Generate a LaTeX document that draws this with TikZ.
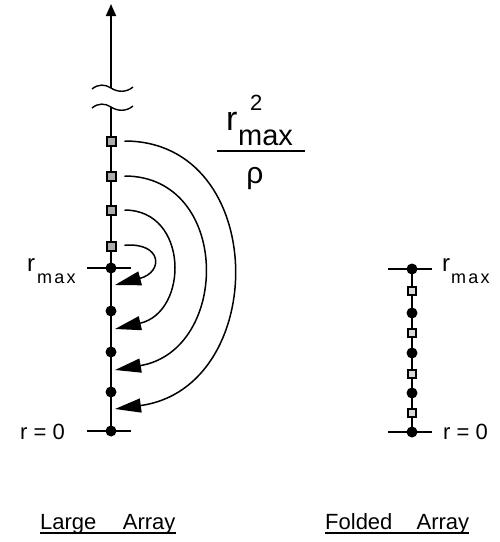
\documentclass[tikz,border=0pt]{standalone}
\usepackage{fontspec}
\setmainfont{Liberation Sans}
\usetikzlibrary{arrows.meta,backgrounds}

\newcommand{\fsz}[1]{\fontsize{#1}{#1}\selectfont}
\newcommand{\spaced}[1]{{\addfontfeature{LetterSpace=12}#1}}

\begin{document}
\begin{tikzpicture}[x=1pt,y=-1pt,
  sitedot/.style={circle,fill,inner sep=0pt,minimum size=11pt},
  sitebox/.style={rectangle,draw,line width=2pt,fill=gray!65,inner sep=0pt,minimum size=9pt},
  foldarrow/.style={line width=1.5pt,shorten <=8pt,-{Triangle[length=26pt,width=14pt]}},
  axis/.style={line width=1.8pt},
  lbl/.style={inner sep=0pt,anchor=base west}]
  \useasboundingbox (0,0) rectangle (500,542);

  % large array
  \coordinate (ltop) at (111,4);
  \coordinate (brkA) at (111,88);
  \coordinate (brkB) at (111,107);
  \foreach \n/\y in {1/141,2/176,3/210,4/246}
    \node[sitebox] (sq\n) at (111,\y) {};
  \node[sitedot] (lmax) at (111,268) {};
  \foreach \n/\y in {1/311,2/352,3/392}
    \node[sitedot] (ld\n) at (111,\y) {};
  \node[sitedot] (lzero) at (111,431) {};
  \begin{scope}[on background layer]
    \draw[axis,-{Triangle[length=12pt,width=10pt]}] (brkA) -- (ltop);
    \draw[axis] (brkB) -- (lzero.center);
  \end{scope}
  \foreach \yy in {0,19}
    \draw[line width=1.4pt,yshift=-\yy pt] (92,89) .. controls (98,84) and (105,84) .. (111,88)
      .. controls (117,92) and (126,93) .. (133,87);
  \draw[axis] ([xshift=-24pt]lmax.center) -- ([xshift=20pt]lmax.center);
  \draw[axis] ([xshift=-24pt]lzero.center) -- ([xshift=20pt]lzero.center);

  % folding arrows
  \coordinate (tip1) at (115,285);
  \coordinate (tip2) at (115,329);
  \coordinate (tip3) at (115,370);
  \coordinate (tip4) at (115,409);
  \draw[foldarrow] (sq4.east) .. controls (162,242) and (164,272) .. (tip1);
  \draw[foldarrow] (sq3.east) .. controls (189,210) and (189,312) .. (tip2);
  \draw[foldarrow] (sq2.east) .. controls (231,176) and (231,350) .. (tip3);
  \draw[foldarrow] (sq1.east) .. controls (270,141) and (270,388) .. (tip4);

  % labels of the large array
  \node[lbl] (lr) at (27,271) {\fsz{24}r};
  \node[lbl] (lrsub) at (37,283) {\fsz{18}\spaced{max}};
  \node[lbl] (lr0) at (20,439) {\fsz{22}r = 0};

  % r_max^2 / rho
  \node[lbl] (fr) at (226,130) {\fsz{34}r};
  \node[lbl] (fsup) at (250,110) {\fsz{22}2};
  \node[lbl] (fsub) at (238,145) {\fsz{29}max};
  \draw[line width=1.8pt] (217,151) -- (305,151);
  \node[inner sep=0pt] (frho) at (255,179) {\fsz{30}ρ};

  % folded array
  \node[sitedot] (fmax) at (412,269) {};
  \foreach \n/\y in {1/291,2/333,3/374,4/413}
    \node[sitebox,fill=gray!30,minimum size=8.5pt,line width=1.6pt] (fq\n) at (412,\y) {};
  \foreach \n/\y in {1/313,2/353,3/393}
    \node[sitedot] (fd\n) at (412,\y) {};
  \node[sitedot] (fzero) at (412,432) {};
  \begin{scope}[on background layer]
    \draw[axis] (fmax.center) -- (fzero.center);
  \end{scope}
  \draw[axis] ([xshift=-24pt]fmax.center) -- ([xshift=20pt]fmax.center);
  \draw[axis] ([xshift=-24pt]fzero.center) -- ([xshift=20pt]fzero.center);
  \node[lbl] (rr) at (442,271) {\fsz{24}r};
  \node[lbl] (rrsub) at (451,283) {\fsz{18}\spaced{max}};
  \node[lbl] (rr0) at (443,439) {\fsz{22}r = 0};

  % titles
  \node[lbl] (ltitle) at (40,529) {\fsz{22}Large\hspace{1.2em}Array};
  \node[lbl] (ftitle) at (325,529) {\fsz{22}Folded\hspace{1.1em}Array};
  \draw[line width=1.3pt] ([yshift=-4pt]ltitle.base west) -- ([yshift=-4pt]ltitle.base east);
  \draw[line width=1.3pt] ([yshift=-4pt]ftitle.base west) -- ([yshift=-4pt]ftitle.base east);
\end{tikzpicture}
\end{document}
